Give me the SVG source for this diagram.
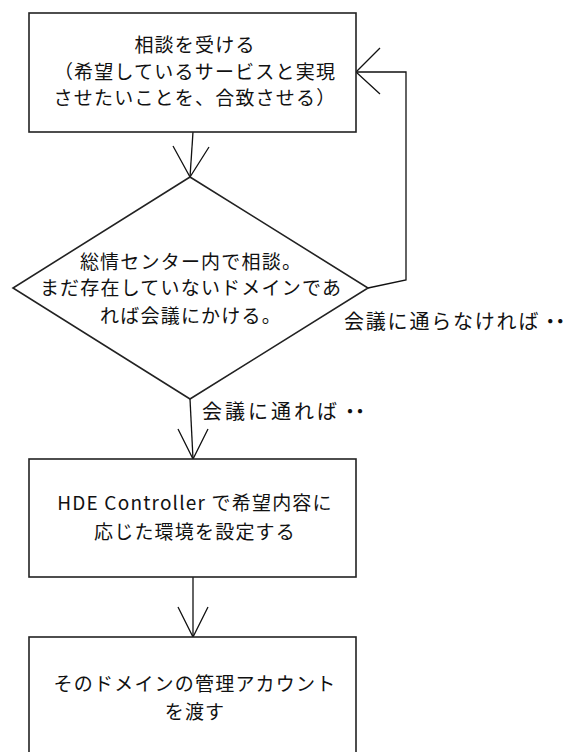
<svg xmlns="http://www.w3.org/2000/svg" width="563" height="752" viewBox="0 0 563 752">
<style>
.shape{fill:#fff;stroke:#222;stroke-width:1.6}
.conn{fill:none;stroke:#111;stroke-width:1.3}
text{font-family:"Noto Sans CJK JP","Noto Sans",sans-serif;font-size:19px;letter-spacing:1.2px;fill:#111}
.c{text-anchor:middle}
.lab{font-size:20px;letter-spacing:1.8px}
.dots{letter-spacing:-10px}
</style>
<rect width="563" height="752" fill="#fff"/>
<g id="connectors">
<line class="conn" x1="193" y1="132" x2="190" y2="177"/>
<polyline class="conn" points="173,146 190,177 209,147"/>
<polyline class="conn" points="368,288 406,280 406,72 356,72"/>
<polyline class="conn" points="380,48 356,72 380,94"/>
<line class="conn" x1="190" y1="399" x2="193" y2="459"/>
<polyline class="conn" points="178,429 193,459 208,429"/>
<line class="conn" x1="193" y1="577" x2="193" y2="637"/>
<polyline class="conn" points="178,607 193,637 208,607"/>
<text class="lab" x="344" y="329">会議に通らなければ<tspan class="dots">・・</tspan></text>
<text class="lab" x="202" y="419" style="letter-spacing:3px">会議に通れば<tspan class="dots">・・</tspan></text>
</g>
<g id="node1">
<rect class="shape" x="29" y="13" width="327" height="119"/>
<text class="c" x="195" y="52">相談を受ける</text>
<text class="c" x="195" y="79">（希望しているサービスと実現</text>
<text class="c" x="195" y="105">させたいことを、合致させる）</text>
</g>
<g id="node2">
<polygon class="shape" points="190,177 368,288 190,399 13,288"/>
<text class="c" x="191" y="269">総情センター内で相談。</text>
<text class="c" x="191" y="295">まだ存在していないドメインであ</text>
<text class="c" x="191" y="323">れば会議にかける。</text>
</g>
<g id="node3">
<rect class="shape" x="29" y="459" width="327" height="118"/>
<text class="c" x="195" y="510">HDE Controller で希望内容に</text>
<text class="c" x="195" y="539">応じた環境を設定する</text>
</g>
<g id="node4">
<rect class="shape" x="29" y="637" width="327" height="130"/>
<text class="c" x="195" y="691">そのドメインの管理アカウント</text>
<text class="c" x="195" y="719">を渡す</text>
</g>
</svg>
